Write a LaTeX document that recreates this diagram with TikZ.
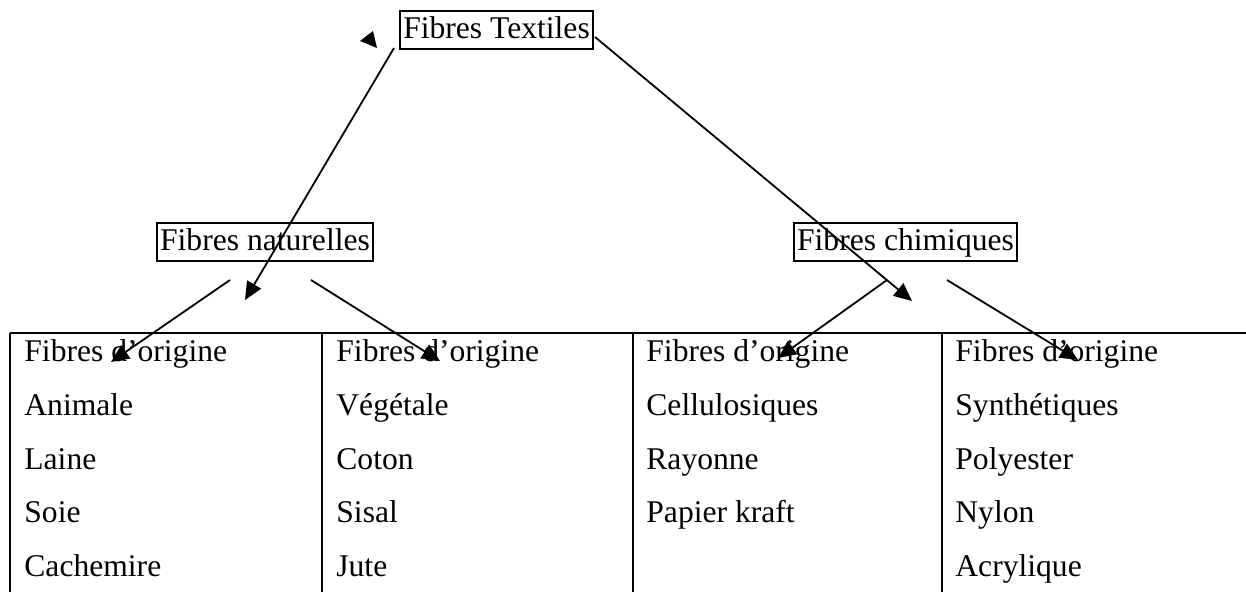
\documentclass[tikz,border=0pt]{standalone}
\usepackage{fontspec}
\setmainfont{Liberation Serif}
\usetikzlibrary{arrows.meta}
\begin{document}
\begin{tikzpicture}[x=0.5pt,y=-0.5pt,font=\fontsize{15.8pt}{19pt}\selectfont]
            \tikzstyle{title box}=[draw,line width=1pt,inner xsep=1.5pt,inner ysep=0pt,text height=14pt,text depth=5pt,anchor=base]
            \tikzstyle{cell text}=[anchor=base west,inner sep=0pt]
            \tikzstyle{link}=[line width=0.9pt,-{Triangle[length=9pt,width=8pt]}]
            \tikzstyle{rule}=[line width=1.1pt]
            \useasboundingbox (0,0) rectangle (1246,592);

            % boxes
            \node(textiles)[title box] at (496.5,39) {Fibres Textiles};
            \node(naturelles)[title box] at (265,251) {Fibres naturelles};
            \node(chimiques)[title box] at (905.5,251) {Fibres chimiques};

            % table
            \draw[rule] (10,333) -- (1246,333);
            \draw[rule] (10,333) -- (10,592);
            \draw[rule] (322,333) -- (322,592);
            \draw[rule] (633,333) -- (633,592);
            \draw[rule] (942,333) -- (942,592);

            \node(an0)[cell text] at (24,362) {Fibres d’origine};
            \node(an1)[cell text] at (24,415.5) {Animale};
            \node(an2)[cell text] at (24,469) {Laine};
            \node(an3)[cell text] at (24,522.5) {Soie};
            \node(an4)[cell text] at (24,576) {Cachemire};

            \node(ve0)[cell text] at (336,362) {Fibres d’origine};
            \node(ve1)[cell text] at (336,415.5) {Végétale};
            \node(ve2)[cell text] at (336,469) {Coton};
            \node(ve3)[cell text] at (336,522.5) {Sisal};
            \node(ve4)[cell text] at (336,576) {Jute};

            \node(ce0)[cell text] at (646,362) {Fibres d’origine};
            \node(ce1)[cell text] at (646,415.5) {Cellulosiques};
            \node(ce2)[cell text] at (646,469) {Rayonne};
            \node(ce3)[cell text] at (646,522.5) {Papier kraft};

            \node(sy0)[cell text] at (955,362) {Fibres d’origine};
            \node(sy1)[cell text] at (955,415.5) {Synthétiques};
            \node(sy2)[cell text] at (955,469) {Polyester};
            \node(sy3)[cell text] at (955,522.5) {Nylon};
            \node(sy4)[cell text] at (955,576) {Acrylique};

            % loose arrow head
            \fill (360,41) -- (373,31) -- (377,48) -- cycle;

            % arrow ends
            \coordinate(tx left) at (394,48);
            \coordinate(tx left end) at (245,300);
            \coordinate(tx right) at (595,37);
            \coordinate(tx right end) at (912,301);
            \coordinate(na left) at (230,280);
            \coordinate(na left end) at (111,362);
            \coordinate(na right) at (311,280);
            \coordinate(na right end) at (440,361);
            \coordinate(ch left) at (887,280);
            \coordinate(ch left end) at (778,358);
            \coordinate(ch right) at (947,280);
            \coordinate(ch right end) at (1078,360);

            \draw[link] (tx left) -- (tx left end);
            \draw[link] (tx right) -- (tx right end);
            \draw[link] (na left) -- (na left end);
            \draw[link] (na right) -- (na right end);
            \draw[link] (ch left) -- (ch left end);
            \draw[link] (ch right) -- (ch right end);
        \end{tikzpicture}
\end{document}
